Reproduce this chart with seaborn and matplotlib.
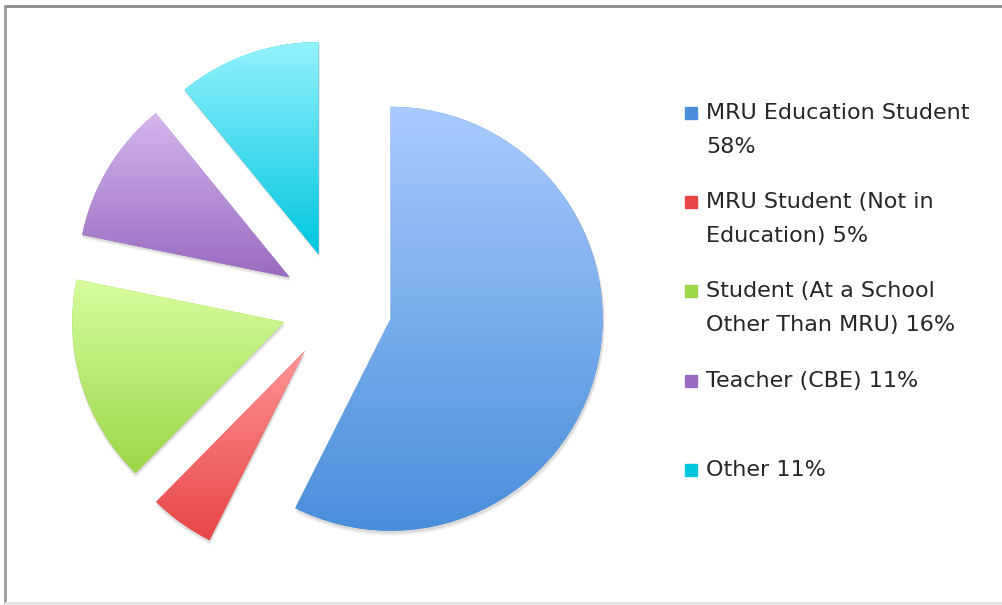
import numpy as np
import matplotlib
matplotlib.use('Agg')
import matplotlib.pyplot as plt
import seaborn as sns
from matplotlib.colors import LinearSegmentedColormap
from matplotlib.patches import Rectangle, Wedge

sns.set_theme(style='white')
plt.rcParams['font.family'] = ['DejaVu Sans']

# data
categories = ['MRU Education Student', 'MRU Student (Not in Education)',
              'Student (At a School Other Than MRU)', 'Teacher (CBE)', 'Other']
values = [58, 5, 16, 11, 11]
legend_lines = [['MRU Education Student', '58%'],
                ['MRU Student (Not in', 'Education) 5%'],
                ['Student (At a School', 'Other Than MRU) 16%'],
                ['Teacher (CBE) 11%'],
                ['Other 11%']]
# (top, bottom) colours of each slice gradient
top_colors = ['#a8cafd', '#ff9494', '#d6fd9e', '#d4b6ee', '#94f2fd']
bottom_colors = ['#4a8edb', '#e84646', '#9cd748', '#9a6bc0', '#00c6df']

W, H = 1002, 605
R = 212
fig = plt.figure(figsize=(W / 100, H / 100), dpi=100)
ax = fig.add_axes([0, 0, 1, 1])

# explode is in data units here (radius is in pixels)
wedges, _ = ax.pie(values, colors=bottom_colors, startangle=90, counterclock=False,
                   radius=R, center=(337, H - 306), explode=[0.26 * R] * len(values),
                   wedgeprops=dict(linewidth=0), frame=True)

for w, c_top, c_bot in zip(wedges, top_colors, bottom_colors):
    # soft drop shadow
    for k, a in [(4, 0.05), (3, 0.07), (2, 0.1)]:
        sh = Wedge((w.center[0] + 1, w.center[1] - k), w.r + k * 0.3, w.theta1, w.theta2,
                   color='#555555', alpha=a, lw=0, zorder=1)
        ax.add_patch(sh)
    # vertical gradient inside each slice
    ext = w.get_path().get_extents()
    cmap = LinearSegmentedColormap.from_list('g', [c_bot, c_top])
    grad = np.linspace(0, 1, 256).reshape(-1, 1)
    im = ax.imshow(grad, cmap=cmap, origin='lower', aspect='auto',
                   extent=[ext.x0, ext.x1, ext.y0, ext.y1], zorder=2)
    im.set_clip_path(w)

ax.set_xlim(0, W)
ax.set_ylim(0, H)
ax.set_aspect('auto')
ax.axis('off')

# legend
entry_y = [113, 202, 291, 381, 470]
for lines, y0, col in zip(legend_lines, entry_y, bottom_colors):
    ax.add_patch(Rectangle((685, H - y0 - 6), 12, 12, color=col, zorder=3))
    for i, line in enumerate(lines):
        ax.text(706, H - (y0 + 34 * i), line, fontsize=16, color='#262626',
                va='center', ha='left')

# outer frame
fig.add_artist(plt.Line2D([5, W], [H - 6, H - 6], color='#8a8a8a', lw=2,
                          transform=None))
fig.add_artist(plt.Line2D([5, 5], [H - 6, H - 603], color='#9a9a9a', lw=2,
                          transform=None))
fig.add_artist(plt.Line2D([5, W], [H - 603, H - 603], color='#e6e6e6', lw=2,
                          transform=None))

fig.savefig('out.png', dpi=100)
